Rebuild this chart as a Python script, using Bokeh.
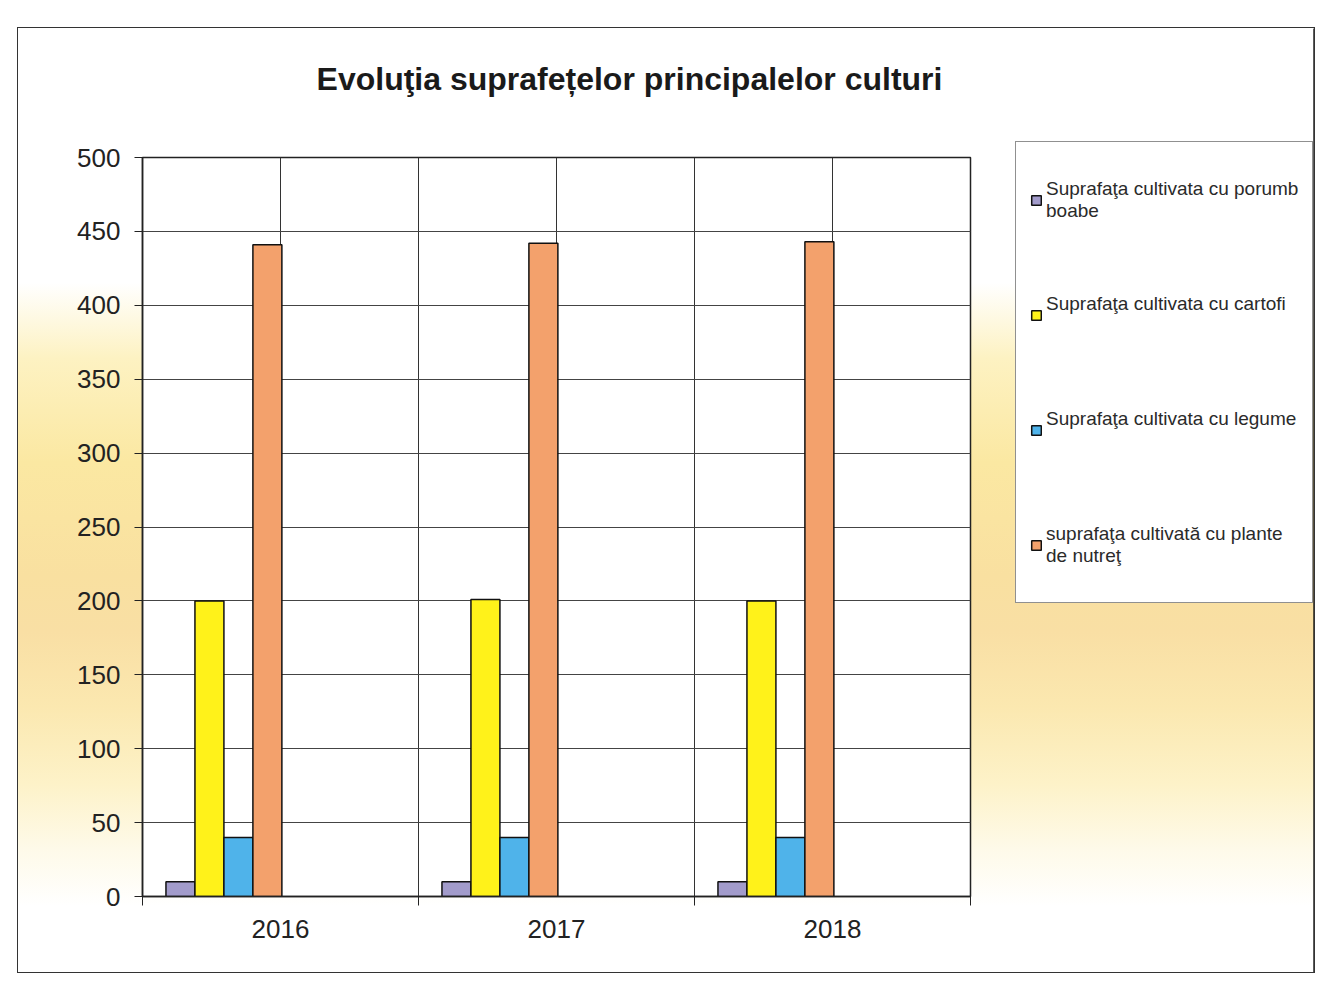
from bokeh.plotting import figure
from bokeh.models import (FixedTicker, Legend, LegendItem, Range1d, Label, Spacer)
from bokeh.layouts import column, row
from bokeh.embed import file_html
from bokeh.resources import INLINE

# ---------------- data ----------------
years = ["2016", "2017", "2018"]
series_names = [
    "Suprafaţa cultivata cu porumb\nboabe",
    "Suprafaţa cultivata cu cartofi\n ",
    "Suprafaţa cultivata cu legume\n ",
    "suprafaţa cultivată cu plante\nde nutreţ",
]
porumb = [10, 10, 10]
cartofi = [200, 201, 200]
legume = [40, 40, 40]
nutret = [441, 442, 443]
series_values = [porumb, cartofi, legume, nutret]
series_colors = ["#A29BCB", "#FFF21A", "#4FB3EA", "#F3A16C"]
y_ticks = list(range(0, 501, 50))
chart_title = "Evoluţia suprafețelor principalelor culturi"

FONT = "Liberation Sans"
LEFT_W, RIGHT_W = 973, 323
TITLE_H, TOTAL_H = 113, 944
FRAME_W = LEFT_W - 124 - 21   # plot-frame width shared (aligned) by the title strip

# ---------------- title strip ----------------
tfig = figure(
    width=LEFT_W, height=TITLE_H, output_backend="svg", toolbar_location=None,
    x_range=Range1d(0, FRAME_W), y_range=Range1d(0, TITLE_H),
    x_axis_type=None, y_axis_type=None, min_border=0,
    background_fill_color=None, border_fill_color=None, outline_line_color=None,
)
tfig.grid.visible = False
tfig.title.visible = False
tfig.add_layout(Label(
    x=487, y=63, text=chart_title, text_align="center", text_baseline="alphabetic",
    text_font=FONT, text_font_size="32px", text_font_style="bold", text_color="#1a1a1a",
))

# ---------------- bar chart ----------------
p = figure(
    width=LEFT_W, height=TOTAL_H - TITLE_H,
    output_backend="svg", toolbar_location=None,
    x_range=Range1d(0, 3), y_range=Range1d(0, 500),
    min_border_left=124, min_border_right=21,
    min_border_top=16, min_border_bottom=76,
    background_fill_color="white", border_fill_color=None,
    outline_line_color="#222222", outline_line_width=1.5,
)
p.title.visible = False

bar_w = 0.105
first_center = 0.1375
renderers = []
for i, (vals, col) in enumerate(zip(series_values, series_colors)):
    xs = [k + first_center + i * bar_w for k in range(len(years))]
    r = p.vbar(x=xs, top=vals, width=bar_w, bottom=0,
               fill_color=col, line_color="#111111", line_width=1.5)
    renderers.append(r)

p.xaxis.ticker = FixedTicker(ticks=[k + 0.5 for k in range(len(years))],
                             minor_ticks=list(range(len(years) + 1)))
p.xaxis.major_label_overrides = {k + 0.5: y for k, y in enumerate(years)}
p.xaxis.major_tick_out = 0
p.xaxis.major_tick_in = 0
p.xaxis.minor_tick_out = 9
p.xaxis.minor_tick_in = 0
p.xaxis.minor_tick_line_color = "#222222"
p.xaxis.major_label_standoff = 14
p.xaxis.major_label_text_font = FONT
p.xaxis.major_label_text_font_size = "26px"
p.xaxis.major_label_text_color = "#222222"
p.xaxis.axis_line_color = "#222222"
p.xaxis.axis_line_width = 1.5

p.yaxis.ticker = FixedTicker(ticks=y_ticks, minor_ticks=[])
p.yaxis.major_tick_out = 8
p.yaxis.major_tick_in = 0
p.yaxis.minor_tick_out = 0
p.yaxis.major_tick_line_color = "#222222"
p.yaxis.major_label_standoff = 14
p.yaxis.major_label_text_font = FONT
p.yaxis.major_label_text_font_size = "26px"
p.yaxis.major_label_text_color = "#222222"
p.yaxis.axis_line_color = "#222222"
p.yaxis.axis_line_width = 1.5

p.xgrid.ticker = FixedTicker(ticks=[k * 0.5 for k in range(2 * len(years) + 1)])
p.xgrid.grid_line_color = "#333333"
p.xgrid.grid_line_width = 1
p.ygrid.ticker = FixedTicker(ticks=y_ticks)
p.ygrid.grid_line_color = "#444444"
p.ygrid.grid_line_width = 1.2

# ---------------- legend panel ----------------
q = figure(
    width=RIGHT_W, height=TOTAL_H,
    output_backend="svg", toolbar_location=None,
    x_range=Range1d(0, 1), y_range=Range1d(0, 1),
    x_axis_type=None, y_axis_type=None, min_border=0,
    background_fill_color=None, border_fill_color=None, outline_line_color=None,
)
q.grid.visible = False
q.title.visible = False
legend_renderers = []
for col in series_colors:
    # swatch carriers only: placed outside the visible range of this panel
    lr = q.vbar(x=[5], top=[1], width=0.1, fill_color=col,
                line_color="#111111", line_width=1.5)
    legend_renderers.append(lr)

legend = Legend(
    items=[LegendItem(label=n, renderers=[r]) for n, r in zip(series_names, legend_renderers)],
    location=(24, 369),
    orientation="vertical",
    background_fill_color="white", background_fill_alpha=1.0,
    border_line_color="#222222", border_line_width=1,
    label_text_font=FONT, label_text_font_size="19px", label_text_color="#2a2a2a",
    label_text_line_height=1.35,
    label_height=87, glyph_height=12, glyph_width=12,
    label_standoff=4, spacing=28, padding=14, margin=0,
)
q.add_layout(legend, "center")

chart = row(column(tfig, p), q)
chart.styles = {
    "border": "1px solid #333333",
    "background": "linear-gradient(to bottom, #ffffff 0%, #ffffff 27%, #fdf2c2 35%, "
                  "#fbe8a2 46%, #f9e0a0 58%, #f9dfa4 64%, #fbe8b0 72%, #fdf2c8 80%, "
                  "#fefae9 87%, #ffffff 93%)",
}

layout = column(Spacer(height=27), row(Spacer(width=17), chart))
open("out.html", "w").write(file_html(layout, INLINE))
